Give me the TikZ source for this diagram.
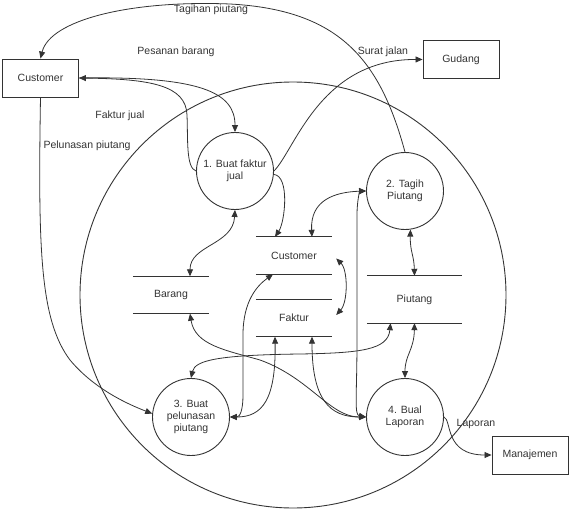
\documentclass[tikz,border=0pt]{standalone}
\usepackage{fontspec}
\setmainfont{Liberation Sans}
\usetikzlibrary{arrows.meta}

\begin{document}
\begin{tikzpicture}
  [
   x=1pt,y=-1pt,
   >={Triangle[length=7pt,width=6pt]},
   color=black!80,
   every node/.style={font=\fontsize{10.5}{12}\selectfont},
   en/.style={rectangle,draw,line width=0.9pt,minimum width=76pt,minimum height=38pt},
   pn/.style={circle,draw,line width=0.9pt,inner sep=0pt,minimum size=77pt,align=center},
   dn/.style={inner sep=0pt,minimum width=76pt,minimum height=37pt},
   fl/.style={line width=0.8pt},
   lb/.style={inner sep=1pt}
  ]
   \useasboundingbox (0,0) rectangle (571,511);

   \draw[line width=0.9pt] (293,295) circle (213pt);

   \node[en] (cu) at (40.5,78)  {Customer};
   \node[en] (gd) at (461,59.5) {Gudang};
   \node[en] (mj) at (530,455)  {Manajemen};

   \node[pn] (p1) at (235,171) {1. Buat faktur\\jual};
   \node[pn] (p2) at (405,191) {2. Tagih\\Piutang};
   \node[pn] (p3) at (191,417) {3. Buat\\pelunasan\\piutang};
   \node[pn] (p4) at (405,417) {4. Bual\\Laporan};

   \node[dn] (sc) at (294,255.5) {Customer};
   \node[dn] (sf) at (294,318)   {Faktur};
   \node[dn] (sb) at (171,295)   {Barang};
   \node[dn,minimum width=95pt,minimum height=47pt] (sp) at (414.5,299.5) {Piutang};

   \foreach \s in {sc,sf,sb,sp}
     \draw[line width=0.9pt] (\s.north west) -- (\s.north east) (\s.south west) -- (\s.south east);

   \node[lb] (lt) at (211,10)  {Tagihan piutang};
   \node[lb] (lo) at (176,52)  {Pesanan barang};
   \node[lb] (lf) at (120,116) {Faktur jual};
   \node[lb] (lp) at (87,146)  {Pelunasan piutang};
   \node[lb] (ls) at (383,52)  {Surat jalan};
   \node[lb] (ll) at (476,424) {Laporan};

   \draw[fl,->] (p2.north) .. controls (380,60) and (340,10) .. (230,4) .. controls (130,0) and (50,20) .. (cu.north);
   \draw[fl,->] (cu.east) .. controls (200,76) and (235,92) .. (p1.north);
   \draw[fl,->] (p1.west) .. controls (186,168) and (188,140) .. (187,115) .. controls (186,85) and (150,79) .. (cu.east);
   \draw[fl,->] (p1.east) .. controls (295,150) and (320,59) .. (gd.west);
   \draw[fl,->] (cu.south) .. controls (38,250) and (40,320) .. (70,360) .. controls (95,390) and (130,405) .. (p3.175);
   \draw[fl,->] (p1.-5) .. controls (290,176) and (285,222) .. ([xshift=-19pt]sc.north);
   \draw[fl,->] (p4.east) .. controls (452,420) and (444,455) .. (mj.west);

   \draw[fl,<->] (p1.south) .. controls (233,245) and (190,245) .. ([xshift=19pt]sb.north);
   \draw[fl,<->] (p2.west) .. controls (335,192) and (310,200) .. ([xshift=18pt]sc.north);
   \draw[fl,<->] (p2.-82) .. controls (410,252) and (414,255) .. (sp.north);
   \draw[fl,<->] ([xshift=4pt,yshift=-3pt]sc.east) .. controls (348,270) and (348,302) .. ([xshift=4pt,yshift=3pt]sf.east);
   \draw[fl,<->] (p4.west) .. controls (354,415) and (357,395) .. (357,340) -- (357,215) .. controls (357,200) and (360,191) .. (p2.west);
   \draw[fl,<->] (p3.east) .. controls (240,417) and (243,410) .. (243,395) -- (243,335) .. controls (243,300) and (258,285) .. ([xshift=-21pt]sc.south);
   \draw[fl,<->] (p3.east) .. controls (262,417) and (276,400) .. ([xshift=-19pt]sf.south);
   \draw[fl,<->] ([xshift=18pt]sf.south) .. controls (312,400) and (330,417) .. (p4.west);
   \draw[fl,<->] ([xshift=19pt]sb.south) .. controls (195,345) and (225,350) .. (260,360) .. controls (310,378) and (330,417) .. (p4.west);
   \draw[fl,<->] ([xshift=-24pt]sp.south) .. controls (388,350) and (360,353) .. (300,354) .. controls (220,355) and (195,360) .. (p3.north);
   \draw[fl,<->] (sp.south) .. controls (414,350) and (405,355) .. (p4.north);

\end{tikzpicture}
\end{document}
